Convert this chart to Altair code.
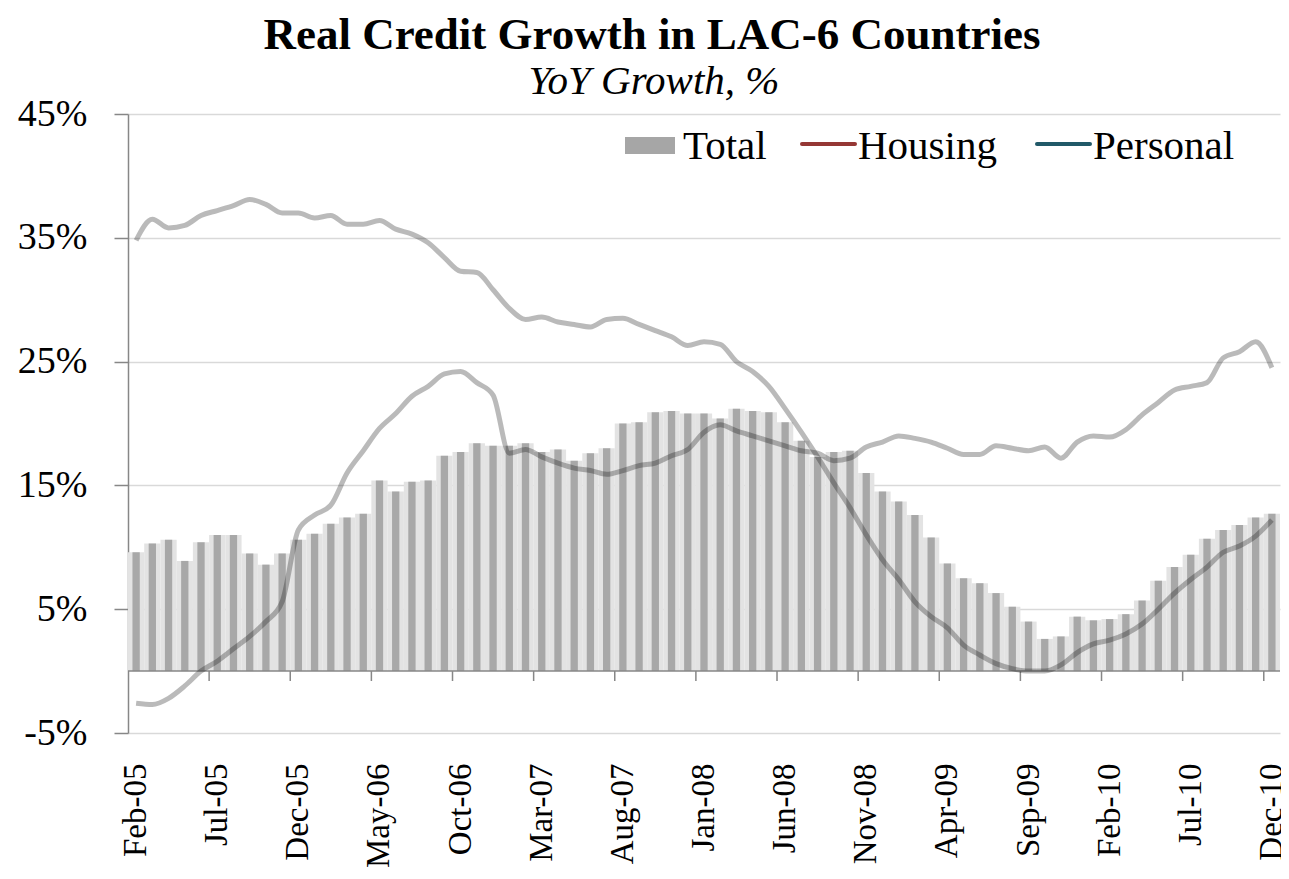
import altair as alt
import pandas as pd

# ---------------- data ----------------
months = list(pd.date_range("2005-02-01", periods=71, freq="MS").strftime("%b-%y"))

total = [
    9.6, 10.3, 10.6, 8.9, 10.4, 11.0, 11.0, 9.5, 8.6, 9.5, 10.6,
    11.1, 11.9, 12.4, 12.7, 15.4, 14.5, 15.3, 15.4, 17.4, 17.7, 18.4, 18.2,
    18.2, 18.4, 17.7, 17.9, 17.0, 17.6, 18.0, 20.0, 20.1, 20.9, 21.0, 20.8,
    20.8, 20.4, 21.2, 21.0, 20.9, 20.1, 18.6, 17.3, 17.7, 17.8, 16.0, 14.5,
    13.7, 12.6, 10.8, 8.7, 7.5, 7.1, 6.3, 5.2, 4.0, 2.6, 2.8, 4.4,
    4.1, 4.2, 4.6, 5.7, 7.3, 8.4, 9.4, 10.7, 11.4, 11.8, 12.4, 12.7,
]

housing = [
    -2.6, -2.7, -2.2, -1.2, 0.0, 0.8, 1.8, 2.8, 4.0, 5.6, 11.4,
    12.6, 13.4, 16.0, 17.8, 19.6, 20.8, 22.2, 23.0, 24.0, 24.2, 23.3, 22.3,
    17.6, 17.9, 17.3, 16.8, 16.4, 16.2, 15.9, 16.2, 16.6, 16.8, 17.4, 17.9,
    19.3, 19.9, 19.4, 19.0, 18.6, 18.2, 17.8, 17.6, 17.0, 17.2, 18.1, 18.5,
    19.0, 18.8, 18.5, 18.0, 17.5, 17.5, 18.2, 18.0, 17.8, 18.1, 17.2, 18.5,
    19.0, 18.9, 19.5, 20.7, 21.7, 22.7, 23.0, 23.3, 25.3, 25.8, 26.6, 24.5,
]

personal = [
    34.8, 36.5, 35.8, 36.0, 36.8, 37.2, 37.6, 38.1, 37.7, 37.0, 37.0,
    36.6, 36.8, 36.1, 36.1, 36.4, 35.7, 35.3, 34.6, 33.4, 32.3, 32.2, 30.8,
    29.3, 28.4, 28.6, 28.2, 28.0, 27.8, 28.4, 28.5, 28.0, 27.5, 27.0, 26.3,
    26.6, 26.4, 25.0, 24.2, 23.0, 21.2, 19.3, 17.3, 15.2, 13.2, 11.0, 9.0,
    7.4, 5.6, 4.4, 3.5, 2.1, 1.3, 0.6, 0.2, 0.0, 0.0, 0.5, 1.5,
    2.2, 2.5, 3.0, 3.8, 5.0, 6.3, 7.4, 8.4, 9.6, 10.1, 10.9, 12.2,
]

y_ticks = [-5, 5, 15, 25, 35, 45]
label_months = months[::5]
tick_months = months[5::5]

title_text = "Real Credit Growth in LAC-6 Countries"
subtitle_text = "YoY Growth, %"
legend_labels = ["Total", "Housing", "Personal"]

# ---------------- tables ----------------
bars_df = pd.DataFrame({"month": months, "value": total})
lines_df = pd.concat([
    pd.DataFrame({"month": months, "value": housing, "series": "Housing"}),
    pd.DataFrame({"month": months, "value": personal, "series": "Personal"}),
])
ticks_df = pd.DataFrame({"month": tick_months})
one = pd.DataFrame({"k": [0]})

FONT = "Liberation Serif"
AXIS_GRAY = "#878787"

x_enc = alt.X(
    "month:N",
    sort=months,
    scale=alt.Scale(paddingInner=0, paddingOuter=0),
    axis=alt.Axis(
        title=None, values=label_months, labelAngle=-90, domain=False, ticks=False,
        tickSize=0, grid=False, labelPadding=30, labelFont=FONT, labelFontSize=33,
        labelColor="black", labelOverlap=False,
    ),
)
y_enc = alt.Y(
    "value:Q",
    scale=alt.Scale(domain=[-5, 45], nice=False, zero=False),
    axis=alt.Axis(
        title=None, values=y_ticks, labelExpr="datum.value + '%'",
        labelFont=FONT, labelFontSize=38, labelColor="black", labelPadding=27,
        tickSize=14, tickColor=AXIS_GRAY, tickWidth=1.5,
        domainColor=AXIS_GRAY, domainWidth=1.5,
        grid=True, gridColor="#d9d9d9", gridWidth=1.5,
    ),
)

bars_bg = alt.Chart(bars_df).mark_bar(
    color="#e3e3e3", width=alt.RelativeBandSize(1.0)
).encode(x=x_enc, y=y_enc)

bars = alt.Chart(bars_df).mark_bar(
    color="#a8a8a8", width=alt.RelativeBandSize(0.45)
).encode(x=x_enc, y=y_enc)

zero_line = alt.Chart(one).mark_rule(color=AXIS_GRAY, strokeWidth=1.5).encode(
    y=alt.datum(0)
)

x_ticks = alt.Chart(ticks_df).mark_rule(color=AXIS_GRAY, strokeWidth=1.5).encode(
    x=alt.X("month:N", sort=months, bandPosition=0),
    y=alt.datum(0),
    y2=alt.datum(-0.8),
)

lines = alt.Chart(lines_df).mark_line(
    color="black", opacity=0.27, strokeWidth=5, interpolate="monotone"
).encode(x=x_enc, y=y_enc, detail="series:N")

# ---------------- legend (manual, inside plot top) ----------------
leg_rect = alt.Chart(one).mark_rect(color="#a6a6a6").encode(
    x=alt.value(497), x2=alt.value(547), y=alt.value(23), y2=alt.value(40)
)
leg_red = alt.Chart(one).mark_rule(color="#953735", strokeWidth=4, strokeCap="round").encode(
    x=alt.value(674), x2=alt.value(727), y=alt.value(30)
)
leg_teal = alt.Chart(one).mark_rule(color="#215968", strokeWidth=4, strokeCap="round").encode(
    x=alt.value(909), x2=alt.value(962), y=alt.value(30)
)
leg_texts = []
for lab, xpos in zip(legend_labels, [555, 730, 965]):
    leg_texts.append(
        alt.Chart(pd.DataFrame({"t": [lab]})).mark_text(
            font=FONT, fontSize=41, align="left", baseline="alphabetic", color="black"
        ).encode(text="t:N", x=alt.value(xpos), y=alt.value(45))
    )

# ---------------- titles ----------------
title_mark = alt.Chart(pd.DataFrame({"t": [title_text]})).mark_text(
    font=FONT, fontSize=45, fontWeight="bold", align="center", baseline="alphabetic", color="black"
).encode(text="t:N", x=alt.value(524), y=alt.value(-65))

subtitle_mark = alt.Chart(pd.DataFrame({"t": [subtitle_text]})).mark_text(
    font=FONT, fontSize=41, fontStyle="italic", align="center", baseline="alphabetic", color="black"
).encode(text="t:N", x=alt.value(526), y=alt.value(-20))

chart = alt.layer(
    bars_bg, bars, zero_line, x_ticks, lines,
    leg_rect, leg_red, leg_teal, *leg_texts,
    title_mark, subtitle_mark,
).properties(
    width=1152,
    height=619,
    autosize=alt.AutoSizeParams(type="none"),
    padding={"left": 120, "top": 106, "right": 1, "bottom": 136},
    background="white",
).configure_view(stroke="transparent")

chart.save("out.html", embed_options={"renderer": "svg", "actions": False})
